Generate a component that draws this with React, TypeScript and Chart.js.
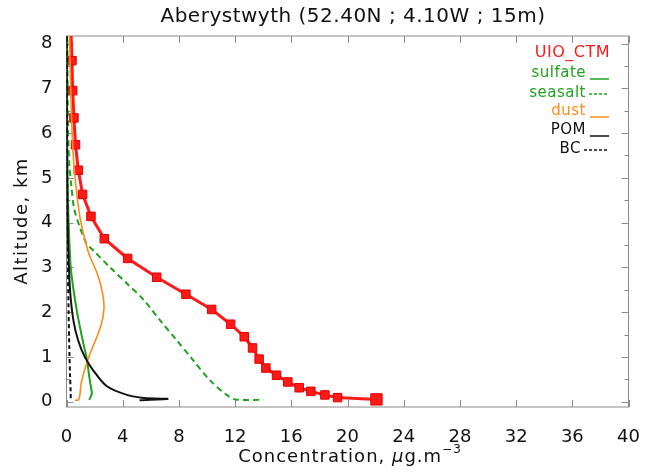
import React, { useEffect, useRef } from "react";
import { Chart, registerables } from "chart.js";

Chart.register(...registerables);

const TITLE = "Aberystwyth (52.40N ; 4.10W ; 15m)";
const X_TICKS = [0, 4, 8, 12, 16, 20, 24, 28, 32, 36, 40];
const Y_TICKS = [0, 1, 2, 3, 4, 5, 6, 7, 8];

// UIO_CTM total (red squares)
const CTM_CONC = [0.32, 0.39, 0.44, 0.53, 0.64, 0.84, 1.15, 1.74, 2.69, 4.35, 6.42, 8.5, 10.33, 11.68, 12.65, 13.24, 13.71, 14.19, 14.95, 15.75, 16.56, 17.39, 18.39, 19.29, 22.06];
const CTM_ALT = [8.3, 7.62, 6.95, 6.34, 5.74, 5.17, 4.63, 4.14, 3.64, 3.2, 2.78, 2.4, 2.06, 1.73, 1.45, 1.2, 0.95, 0.75, 0.59, 0.44, 0.31, 0.23, 0.15, 0.09, 0.05];

const SULF_CONC = [0.02, 0.04, 0.08, 0.15, 0.3, 0.5, 0.75, 1.0, 1.2, 1.45, 1.6, 1.75, 1.8, 1.62];
const SULF_ALT = [8.3, 6.0, 5.0, 4.0, 3.0, 2.5, 2.0, 1.6, 1.3, 0.95, 0.6, 0.3, 0.18, 0.04];

const SALT_CONC = [0.05, 0.08, 0.12, 0.2, 0.35, 0.55, 0.95, 1.4, 2.0, 3.1, 4.3, 5.5, 6.65, 7.85, 9.0, 10.2, 11.4, 12.0, 14.0];
const SALT_ALT = [8.3, 7.0, 6.0, 5.3, 4.8, 4.3, 3.9, 3.55, 3.35, 3.0, 2.64, 2.27, 1.82, 1.37, 0.93, 0.48, 0.15, 0.05, 0.04];

const DUST_CONC = [0.2, 0.3, 0.4, 0.55, 0.75, 0.96, 1.25, 1.6, 2.2, 2.55, 2.67, 2.5, 2.1, 1.65, 1.3, 1.05, 0.95, 0.85, 0.6];
const DUST_ALT = [8.3, 7.0, 6.0, 5.2, 4.6, 4.12, 3.7, 3.3, 2.85, 2.45, 2.1, 1.75, 1.4, 1.05, 0.72, 0.42, 0.15, 0.04, 0.03];

const POM_CONC = [0.0, 0.02, 0.05, 0.12, 0.25, 0.5, 0.85, 1.3, 1.9, 2.85, 4.3, 5.5, 7.2, 5.2];
const POM_ALT = [8.3, 6.0, 4.5, 3.5, 2.5, 1.8, 1.35, 1.0, 0.7, 0.35, 0.15, 0.08, 0.06, 0.03];

const BC_CONC = [0.02, 0.04, 0.06, 0.1, 0.15, 0.2, 0.25, 0.3, 0.3];
const BC_ALT = [8.3, 6.0, 4.5, 3.0, 2.0, 1.2, 0.6, 0.2, 0.04];

const LEGEND = ["UIO_CTM", "sulfate", "seasalt", "dust", "POM", "BC"];

const pts = (xs: number[], ys: number[]) => xs.map((x, i) => ({ x, y: ys[i] }));

const FONT = "'DejaVu Sans', sans-serif";

const decor = {
  id: "decor",
  beforeDatasetsDraw(chart: any) {
    const { ctx, chartArea: a, scales } = chart;
    const xs = scales.x, ys = scales.y;
    ctx.save();
    ctx.strokeStyle = "#8a8a8a";
    ctx.lineWidth = 1;
    ctx.strokeRect(a.left, a.top, a.right - a.left, a.bottom - a.top);
    ctx.beginPath();
    for (const v of X_TICKS) {
      const px = Math.round(xs.getPixelForValue(v)) + 0.5;
      ctx.moveTo(px, a.bottom); ctx.lineTo(px, a.bottom - 7);
      ctx.moveTo(px, a.top); ctx.lineTo(px, a.top + 7);
    }
    for (const v of Y_TICKS) {
      const py = Math.round(ys.getPixelForValue(v)) + 0.5;
      ctx.moveTo(a.left, py); ctx.lineTo(a.left + 7, py);
      ctx.moveTo(a.right, py); ctx.lineTo(a.right - 7, py);
    }
    for (let v = 0.5; v < 8; v += 1) {
      const py = Math.round(ys.getPixelForValue(v)) + 0.5;
      ctx.moveTo(a.left, py); ctx.lineTo(a.left + 4, py);
      ctx.moveTo(a.right, py); ctx.lineTo(a.right - 4, py);
    }
    ctx.stroke();
    ctx.restore();
  },
  afterDraw(chart: any) {
    const { ctx, chartArea: a } = chart;
    ctx.save();
    ctx.fillStyle = "#111";
    ctx.textBaseline = "middle";
    // title
    ctx.font = `20px ${FONT}`;
    ctx.textAlign = "center";
    (ctx as any).letterSpacing = "0.5px";
    ctx.fillText(TITLE, 353, 17);
    // y axis title
    ctx.save();
    ctx.translate(22, 221);
    ctx.rotate(-Math.PI / 2);
    ctx.font = `18px ${FONT}`;
    (ctx as any).letterSpacing = "1.5px";
    ctx.fillText("Altitude, km", 0, 0);
    ctx.restore();
    // x axis title with mu and superscript
    ctx.font = `18px ${FONT}`;
    (ctx as any).letterSpacing = "1px";
    ctx.textAlign = "left";
    const p1 = "Concentration, ";
    const p2 = "\u03bc";
    const p3 = "g.m";
    const p4 = "\u22123";
    ctx.font = `18px ${FONT}`;
    const w1 = ctx.measureText(p1).width;
    ctx.font = `italic 18px ${FONT}`;
    const w2 = ctx.measureText(p2).width;
    ctx.font = `18px ${FONT}`;
    const w3 = ctx.measureText(p3).width;
    ctx.font = `12px ${FONT}`;
    const w4 = ctx.measureText(p4).width;
    let x0 = 350 - (w1 + w2 + w3 + w4) / 2;
    const yb = 457;
    ctx.font = `18px ${FONT}`;
    ctx.fillText(p1, x0, yb); x0 += w1;
    ctx.font = `italic 18px ${FONT}`;
    ctx.fillText(p2, x0, yb); x0 += w2;
    ctx.font = `18px ${FONT}`;
    ctx.fillText(p3, x0, yb); x0 += w3;
    ctx.font = `12px ${FONT}`;
    ctx.fillText(p4, x0, yb - 7);
    // legend
    (ctx as any).letterSpacing = "0.5px";
    ctx.textAlign = "right";
    ctx.font = `16px ${FONT}`;
    ctx.fillStyle = "#ff1a1a";
    ctx.fillText(LEGEND[0], 610, 53);
    const rows = [
      { t: LEGEND[1], c: "#1fa31f", dash: false, y: 73 },
      { t: LEGEND[2], c: "#1fa31f", dash: true, y: 93 },
      { t: LEGEND[3], c: "#ff8c1a", dash: false, y: 111 },
      { t: LEGEND[4], c: "#111111", dash: false, y: 130 },
      { t: LEGEND[5], c: "#111111", dash: true, y: 149 },
    ];
    ctx.font = `15px ${FONT}`;
    for (const r of rows) {
      ctx.fillStyle = r.c;
      const rx = r.t === "BC" ? 581 : 586;
      ctx.fillText(r.t, rx, r.y);
      ctx.strokeStyle = r.c;
      ctx.lineWidth = 1.5;
      ctx.beginPath();
      if (r.dash) {
        ctx.setLineDash([3, 2]);
        ctx.moveTo(rx + 3, r.y + 1); ctx.lineTo(609, r.y + 1);
      } else {
        ctx.setLineDash([]);
        ctx.moveTo(590, r.y + 6); ctx.lineTo(609, r.y + 6);
      }
      ctx.stroke();
    }
    ctx.restore();
  },
};

export default function App() {
  const ref = useRef<HTMLCanvasElement>(null);
  useEffect(() => {
    if (!ref.current) return;
    const n = CTM_CONC.length;
    const chart = new Chart(ref.current, {
      type: "scatter",
      data: {
        datasets: [
          { data: pts(BC_CONC, BC_ALT), showLine: true, borderColor: "#111", borderWidth: 2, borderDash: [4, 3], pointRadius: 0, tension: 0.3 },
          { data: pts(POM_CONC, POM_ALT), showLine: true, borderColor: "#111", borderWidth: 2, pointRadius: 0, tension: 0.3 },
          { data: pts(DUST_CONC, DUST_ALT), showLine: true, borderColor: "#ff8c1a", borderWidth: 1.6, pointRadius: 0, tension: 0.3 },
          { data: pts(SALT_CONC, SALT_ALT), showLine: true, borderColor: "#1fa31f", borderWidth: 2, borderDash: [6, 4], pointRadius: 0, tension: 0.3 },
          { data: pts(SULF_CONC, SULF_ALT), showLine: true, borderColor: "#1fa31f", borderWidth: 2, pointRadius: 0, tension: 0.3 },
          {
            data: pts(CTM_CONC, CTM_ALT), showLine: true, borderColor: "#ff1a1a", borderWidth: 3,
            pointStyle: "rect",
            pointRadius: CTM_CONC.map((_, i) => (i === n - 1 ? 8 : 6)),
            pointBackgroundColor: "#ff1a1a", pointBorderColor: "#e00000", pointBorderWidth: 1,
          },
        ],
      },
      options: {
        animation: false,
        responsive: false,
        maintainAspectRatio: false,
        layout: { padding: { left: 0, right: 23, top: 36, bottom: 0 } },
        plugins: { legend: { display: false }, tooltip: { enabled: false }, title: { display: false } },
        scales: {
          x: {
            type: "linear", min: 0, max: 40,
            grid: { display: false }, border: { display: false },
            afterBuildTicks: (s: any) => { s.ticks = X_TICKS.map((v) => ({ value: v })); },
            afterFit: (s: any) => { s.height = 67; },
            ticks: { color: "#111", font: { family: FONT, size: 18 }, padding: 12, maxRotation: 0, autoSkip: false },
          },
          y: {
            type: "linear", min: -0.12, max: 8.17,
            grid: { display: false }, border: { display: false },
            afterBuildTicks: (s: any) => { s.ticks = Y_TICKS.map((v) => ({ value: v })); },
            afterFit: (s: any) => { s.width = 66.5; },
            ticks: { color: "#111", font: { family: FONT, size: 18 }, padding: 6, autoSkip: false },
          },
        },
      },
      plugins: [decor],
    });
    return () => chart.destroy();
  }, []);
  return (
    <div style={{ position: "fixed", left: 0, top: 0, width: 652, height: 474, background: "#fff" }}>
      <canvas ref={ref} width={652} height={474} style={{ width: 652, height: 474 }} />
    </div>
  );
}
